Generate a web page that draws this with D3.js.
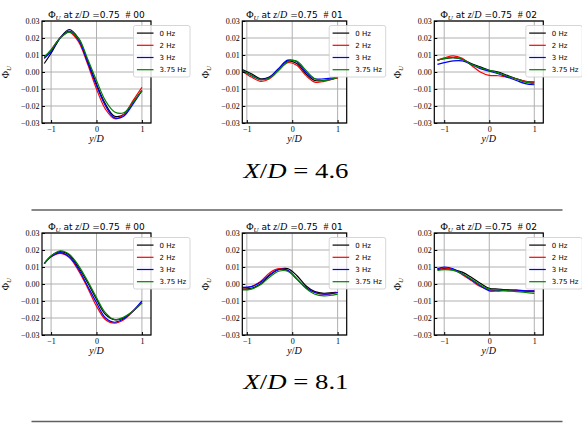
<!DOCTYPE html>
<html>
<head>
<meta charset="utf-8">
<script src="https://cdn.jsdelivr.net/npm/d3@7"></script>
<style>
  body { margin: 0; background: #fff; }
  svg text { white-space: pre; }
</style>
</head>
<body>
<svg id="chart" width="582" height="423"></svg>
<script>
// series
var seriesNames = ["0 Hz", "2 Hz", "3 Hz", "3.75 Hz"];
var seriesColors = ["#000000", "#ff0000", "#0000ff", "#008000"];
var probes = ["00", "01", "02"];
var stations = ["4.6", "8.1"];
var yTicks = [-0.03, -0.02, -0.01, 0.00, 0.01, 0.02, 0.03];
var xTicks = [-1, 0, 1];

// sample y/D positions
var yPosA = [-1.15, -1.0, -0.8, -0.6, -0.4, -0.2, 0, 0.2, 0.4, 0.6, 0.8, 1.0];
var yPosB = [-1.1, -0.9, -0.7, -0.5, -0.3, -0.1, 0.1, 0.3, 0.5, 0.7, 0.9, 1.0];

// X/D = 4.6
var phi46_00 = [
  [0.005, 0.011, 0.020, 0.025, 0.020, 0.007, -0.007, -0.019, -0.026, -0.025, -0.018, -0.011],
  [0.008, 0.013, 0.020, 0.0235, 0.018, 0.005, -0.010, -0.022, -0.0275, -0.025, -0.017, -0.009],
  [0.008, 0.012, 0.020, 0.024, 0.019, 0.006, -0.008, -0.020, -0.027, -0.026, -0.019, -0.011],
  [0.009, 0.013, 0.020, 0.0235, 0.020, 0.008, -0.005, -0.017, -0.0235, -0.024, -0.018, -0.011]
];
var phi46_01 = [
  [0.0015, -0.001, -0.004, -0.003, 0.002, 0.0065, 0.005, -0.001, -0.005, -0.005, -0.004, -0.0035],
  [0.0005, -0.003, -0.0055, -0.004, 0.001, 0.0055, 0.004, -0.002, -0.006, -0.0055, -0.004, -0.0035],
  [0.001, -0.002, -0.0045, -0.003, 0.002, 0.007, 0.006, 0.000, -0.004, -0.004, -0.0035, -0.003],
  [0.001, -0.002, -0.0045, -0.0035, 0.001, 0.006, 0.0065, 0.001, -0.004, -0.005, -0.004, -0.003]
];
var phi46_02 = [
  [0.007, 0.0078, 0.0085, 0.0075, 0.005, 0.003, 0.001, 0.000, -0.002, -0.004, -0.0055, -0.006],
  [0.007, 0.0083, 0.0095, 0.008, 0.004, 0.000, -0.002, -0.0022, -0.003, -0.004, -0.0055, -0.006],
  [0.0045, 0.0055, 0.0065, 0.0065, 0.0045, 0.002, 0.0005, -0.001, -0.003, -0.005, -0.0068, -0.0075],
  [0.007, 0.008, 0.0085, 0.0075, 0.0045, 0.0025, 0.001, -0.0005, -0.0025, -0.004, -0.006, -0.007]
];

// X/D = 8.1
var phi81_00 = [
  [0.012, 0.0165, 0.019, 0.017, 0.010, 0.001, -0.009, -0.018, -0.021, -0.020, -0.016, -0.011],
  [0.012, 0.016, 0.018, 0.0155, 0.008, -0.002, -0.013, -0.021, -0.023, -0.021, -0.016, -0.011],
  [0.012, 0.016, 0.0185, 0.016, 0.009, -0.001, -0.011, -0.020, -0.0225, -0.0205, -0.016, -0.010],
  [0.012, 0.0165, 0.0195, 0.0175, 0.011, 0.002, -0.008, -0.017, -0.021, -0.0195, -0.016, -0.011]
];
var phi81_01 = [
  [-0.003, -0.0025, 0.000, 0.005, 0.0085, 0.009, 0.005, -0.001, -0.0045, -0.0055, -0.005, -0.005],
  [-0.0025, -0.0015, 0.0015, 0.0065, 0.009, 0.008, 0.003, -0.002, -0.005, -0.006, -0.0055, -0.005],
  [-0.002, -0.0015, 0.001, 0.0055, 0.0085, 0.008, 0.003, -0.002, -0.005, -0.006, -0.0055, -0.005],
  [-0.0035, -0.003, -0.0005, 0.004, 0.0075, 0.0075, 0.003, -0.0025, -0.006, -0.007, -0.0065, -0.006]
];
var phi81_02 = [
  [0.0085, 0.009, 0.0085, 0.007, 0.004, 0.0005, -0.0025, -0.003, -0.0035, -0.004, -0.0042, -0.0045],
  [0.009, 0.0095, 0.0085, 0.0055, 0.002, -0.0015, -0.0035, -0.004, -0.004, -0.004, -0.004, -0.004],
  [0.009, 0.010, 0.009, 0.006, 0.0025, -0.001, -0.004, -0.004, -0.0035, -0.0035, -0.004, -0.004],
  [0.008, 0.0085, 0.008, 0.006, 0.003, -0.0005, -0.003, -0.0035, -0.004, -0.0045, -0.005, -0.0055]
];

var panelData = [
  [{ pos: yPosA, vals: phi46_00 }, { pos: yPosB, vals: phi46_01 }, { pos: yPosA, vals: phi46_02 }],
  [{ pos: yPosA, vals: phi81_00 }, { pos: yPosB, vals: phi81_01 }, { pos: yPosA, vals: phi81_02 }]
];

// layout
var colLeft = [42, 242.3, 434.3];
var colWidth = [109, 104.4, 109];
var colDomain = [[-1.2, 1.2], [-1.1, 1.2], [-1.22, 1.2]];
var rowTop = [21, 233];
var PANEL_H = 102;
var SERIF = "'Liberation Serif', 'DejaVu Serif', serif";
var SANS = "'DejaVu Sans', sans-serif";

var svg = d3.select("#chart");

function drawPanel(r, c) {
  var x0 = colLeft[c], y0 = rowTop[r], w = colWidth[c];
  var xs = d3.scaleLinear().domain(colDomain[c]).range([x0, x0 + w]);
  var ys = d3.scaleLinear().domain([-0.03, 0.03]).range([y0 + PANEL_H, y0]);
  var g = svg.append("g").attr("class", "panel");

  // grid
  g.selectAll("line.gx").data(xTicks).enter().append("line")
      .attr("x1", d => xs(d)).attr("x2", d => xs(d))
      .attr("y1", y0).attr("y2", y0 + PANEL_H)
      .style("stroke", "#b0b0b0").style("stroke-width", 1);
  g.selectAll("line.gy").data(yTicks).enter().append("line")
      .attr("x1", x0).attr("x2", x0 + w)
      .attr("y1", d => ys(d)).attr("y2", d => ys(d))
      .style("stroke", "#b0b0b0").style("stroke-width", 1);

  // curves
  var d = panelData[r][c];
  var line = d3.line()
      .x((v, i) => xs(d.pos[i]))
      .y(v => ys(v))
      .curve(d3.curveCatmullRom.alpha(0.5));
  d.vals.forEach(function(vals, k) {
    g.append("path")
        .attr("d", line(vals))
        .style("fill", "none")
        .style("stroke", seriesColors[k])
        .style("stroke-width", 1.2);
  });

  // axes, ticks inside
  var xAxis = d3.axisBottom(xs).tickValues(xTicks).tickSizeInner(-3).tickSizeOuter(0)
      .tickPadding(3).tickFormat(v => v < 0 ? "\u2212" + Math.abs(v) : v);
  var yAxis = d3.axisLeft(ys).tickValues(yTicks).tickSizeInner(-3).tickSizeOuter(0)
      .tickPadding(6).tickFormat(v => (v < 0 ? "\u2212" : "") + Math.abs(v).toFixed(2));
  var ax = g.append("g").attr("transform", "translate(0," + (y0 + PANEL_H) + ")").call(xAxis);
  var ay = g.append("g").attr("transform", "translate(" + x0 + ",0)").call(yAxis);
  [ax, ay].forEach(function(a) {
    a.select(".domain").remove();
    a.selectAll("text").style("font-family", SERIF).style("font-size", "8px").style("fill", "#000");
    a.selectAll("line").style("stroke", "#000");
  });
  ay.selectAll("text").attr("x", -2.5);

  // frame
  g.append("rect")
      .attr("x", x0).attr("y", y0).attr("width", w).attr("height", PANEL_H)
      .style("fill", "none").style("stroke", "#000").style("stroke-width", 1.2);

  // title
  var cx = x0 + w / 2;
  var t = g.append("text").attr("x", cx).attr("y", y0 - 3)
      .attr("text-anchor", "middle").style("font-size", "9px").style("fill", "#000");
  t.append("tspan").style("font-family", SERIF).style("font-size", "10px").text("\u03A6");
  t.append("tspan").style("font-family", SERIF).style("font-style", "italic")
      .style("font-size", "7px").attr("dy", 2).text("U");
  t.append("tspan").style("font-family", SANS).attr("dy", -2).text(" at ");
  t.append("tspan").style("font-family", SERIF).style("font-style", "italic").style("font-size", "10px").text("z");
  t.append("tspan").style("font-family", SERIF).style("font-size", "10px").text("/");
  t.append("tspan").style("font-family", SERIF).style("font-style", "italic").style("font-size", "10px").text("D");
  t.append("tspan").style("font-family", SANS).text(" =0.75  ");
  t.append("tspan").style("font-family", SERIF).style("font-size", "10px").text("#");
  t.append("tspan").style("font-family", SANS).text(" " + probes[c]);

  // y label
  var yl = g.append("text")
      .attr("transform", "translate(" + (x0 - 33) + "," + (y0 + PANEL_H / 2) + ") rotate(-90)")
      .attr("text-anchor", "middle").style("font-family", SERIF).style("font-size", "10px");
  yl.append("tspan").text("\u03A6");
  yl.append("tspan").style("font-style", "italic").style("font-size", "7px").attr("dy", 2).text("U");

  // x label
  var xl = g.append("text").attr("x", cx).attr("y", y0 + PANEL_H + 19)
      .attr("text-anchor", "middle").style("font-family", SERIF).style("font-size", "10px");
  xl.append("tspan").style("font-style", "italic").text("y");
  xl.append("tspan").text("/");
  xl.append("tspan").style("font-style", "italic").text("D");

  // legend
  var lx = x0 + w - 17.5, ly = y0 + 4.5;
  var lg = g.append("g").attr("transform", "translate(" + lx + "," + ly + ")");
  lg.append("rect").attr("x", 0).attr("y", 0).attr("width", 56.5).attr("height", 51.5)
      .attr("rx", 2).style("fill", "rgba(255,255,255,0.85)").style("stroke", "#cccccc").style("stroke-width", 0.8);
  seriesNames.forEach(function(name, k) {
    var yy = 7.6 + k * 12.2;
    lg.append("line").attr("x1", 3.4).attr("x2", 20).attr("y1", yy).attr("y2", yy)
        .style("stroke", seriesColors[k]).style("stroke-width", 1.2);
    lg.append("text").attr("x", 26).attr("y", yy + 2.5)
        .style("font-family", SANS).style("font-size", "7px").text(name);
  });
}

for (var r = 0; r < 2; r++) {
  for (var c = 0; c < 3; c++) drawPanel(r, c);
}

// captions and rules
var capY = [178, 389];
var ruleY = [210, 421.5];
stations.forEach(function(s, i) {
  var cap = svg.append("text").attr("x", 296).attr("y", capY[i])
      .attr("text-anchor", "middle").style("font-family", SERIF).style("font-size", "21px")
      .attr("textLength", 105).attr("lengthAdjust", "spacingAndGlyphs");
  cap.append("tspan").style("font-style", "italic").text("X");
  cap.append("tspan").text("/");
  cap.append("tspan").style("font-style", "italic").text("D");
  cap.append("tspan").text(" = " + s);
  svg.append("line").attr("x1", 31.5).attr("x2", 562.5).attr("y1", ruleY[i]).attr("y2", ruleY[i])
      .style("stroke", "#606060").style("stroke-width", 1.6);
});
</script>
</body>
</html>
